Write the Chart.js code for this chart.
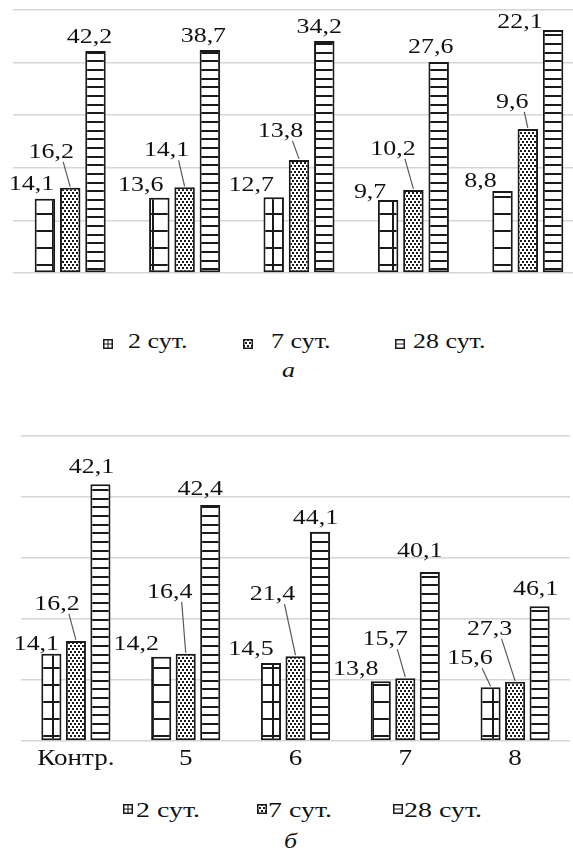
<!DOCTYPE html>
<html>
<head>
<meta charset="utf-8">
<script src="https://cdn.jsdelivr.net/npm/chart.js@4.4.1/dist/chart.umd.min.js"></script>
<style>
html, body { margin: 0; padding: 0; background: #fff; overflow: hidden; width: 573px; height: 852px; }
.wrap { position: absolute; left: 0; overflow: hidden; width: 573px; }
.wrap canvas { display: block; }
.txt { position: absolute; font: 22px "Liberation Serif", "Times New Roman", serif; line-height: 22px; color: #111;
       white-space: nowrap; transform-origin: 0 0; }
.icon { position: absolute; }
</style>
</head>
<body>
<div class="wrap" style="top:0;height:285px"><canvas id="chartA" width="600" height="285"></canvas></div>
<div class="wrap" style="top:420px;height:360px"><canvas id="chartB" width="573" height="360"></canvas></div>
<script>
var categories = ['Контр.', '5', '6', '7', '8'];
var seriesNames = ['2 сут.', '7 сут.', '28 сут.'];

// chart а: bar heights (0..50, step 10)
var aDay2 = [14.1, 14.3, 14.4, 13.9, 15.6];
var aDay7 = [16.2, 16.3, 21.5, 15.8, 27.4];
var aDay28 = [42.2, 42.4, 44.1, 40.1, 46.2];
// chart а: numbers printed on the bars
var aText2 = [14.1, 13.6, 12.7, 9.7, 8.8];
var aText7 = [16.2, 14.1, 13.8, 10.2, 9.6];
var aText28 = [42.2, 38.7, 34.2, 27.6, 22.1];

// chart б: bar heights
var bDay2 = [14.3, 13.8, 12.8, 9.8, 8.8];
var bDay7 = [16.4, 14.3, 13.9, 10.3, 9.7];
var bDay28 = [42.1, 38.7, 34.3, 27.7, 22.1];
// chart б: numbers printed on the bars
var bText2 = [14.1, 14.2, 14.5, 13.8, 15.6];
var bText7 = [16.2, 16.4, 21.4, 15.7, 27.3];
var bText28 = [42.1, 42.4, 44.1, 40.1, 46.1];

var SX = 1.18;   // the text in the picture is stretched sideways
var FONT = '"Liberation Serif", "Times New Roman", serif';

// where each number sits relative to its bar (dx from bar centre, rise above bar top)
var aNudge = {
    dx: [[-13.5, -18.5, -22.5, -18, -22], [-19, -18, -18.5, -20.5, -15.5], [-6, -6.5, -5, -8, -33]],
    rise: [[9, 7, 6, 2, 4], [30, 31, 23, 35, 21], [8, 8, 8, 9, 2]],
    leader: [[0, 0, 0, 0, 0], [1, 1, 1, 1, 1], [0, 0, 0, 0, 0]]
};
var bNudge = {
    dx: [[-15, -25, -20, -25, -20.5], [-19, -16, -23, -20, -25.5], [-9, -10, -4.5, -10, -4]],
    rise: [[4, 7, 8, 6, 23], [31, 56, 56, 33, 47], [11, 10, 8, 15, 11]],
    leader: [[0, 0, 0, 0, 1], [1, 1, 1, 1, 1], [0, 0, 0, 0, 0]]
};

function tile(w, h, paint) {
    var c = document.createElement('canvas');
    c.width = w; c.height = h;
    var g = c.getContext('2d');
    g.fillStyle = '#fff';
    g.fillRect(0, 0, w, h);
    g.fillStyle = '#1a1a1a';
    paint(g);
    return c;
}
var gridTile = tile(20, 17, function (g) { g.fillRect(12, 0, 2, 17); g.fillRect(0, 9, 20, 2); });
var dotTile = tile(4, 6, function (g) { g.fillRect(0, 0, 2, 2); g.fillRect(2, 3, 2, 2); });
var lineTile = tile(4, 26, function (g) { g.fillRect(0, 0, 4, 2); g.fillRect(0, 8, 4, 2); g.fillRect(0, 17, 4, 2); });
var tiles = [gridTile, dotTile, lineTile];

function fmt(v) { return v.toFixed(1).replace('.', ','); }

function stretchedText(ctx, text, x, y) {
    ctx.save();
    ctx.translate(x, y);
    ctx.scale(SX, 1);
    ctx.fillText(text, 0, 0);
    ctx.restore();
}

var valueLabels = {
    id: 'valueLabels',
    afterDatasetsDraw: function (chart, args, opts) {
        var ctx = chart.ctx;
        ctx.save();
        ctx.font = '22px ' + FONT;
        ctx.fillStyle = '#111';
        ctx.textAlign = 'center';
        ctx.textBaseline = 'alphabetic';
        opts.texts.forEach(function (row, i) {
            var meta = chart.getDatasetMeta(i);
            row.forEach(function (v, j) {
                var bar = meta.data[j];
                var cx = bar.x + opts.nudge.dx[i][j];
                var by = bar.y - opts.nudge.rise[i][j];
                if (opts.nudge.leader[i][j]) {
                    ctx.strokeStyle = '#595959';
                    ctx.lineWidth = 1.2;
                    ctx.beginPath();
                    ctx.moveTo(cx + 12, by + 4);
                    ctx.lineTo(bar.x, bar.y - 1);
                    ctx.stroke();
                }
                stretchedText(ctx, fmt(v), cx, by);
            });
        });
        // category names under the bottom chart
        if (opts.categoryTicks) {
            var xs = chart.scales.x;
            ctx.font = '23px ' + FONT;
            chart.data.labels.forEach(function (name, i) {
                stretchedText(ctx, name, xs.getPixelForValue(i), chart.chartArea.bottom + 24);
            });
        }
        ctx.restore();
    }
};

function makeDatasets(ctx, values) {
    return values.map(function (v, i) {
        return {
            label: seriesNames[i],
            data: v,
            backgroundColor: ctx.createPattern(tiles[i], 'repeat'),
            borderColor: '#1a1a1a',
            borderWidth: 2,
            borderSkipped: false
        };
    });
}

var yAxis = {
    min: 0, max: 50,
    ticks: { stepSize: 10, display: false },
    grid: { color: '#d6d6d6', lineWidth: 1.5, drawTicks: false },
    border: { display: false },
    afterFit: function (s) { s.width = 0; }
};

var ctxA = document.getElementById('chartA').getContext('2d');
var chartA = new Chart(ctxA, {
    type: 'bar',
    data: { labels: categories, datasets: makeDatasets(ctxA, [aDay2, aDay7, aDay28]) },
    options: {
        responsive: false,
        animation: false,
        devicePixelRatio: 1,
        layout: { padding: { left: 13, right: 15, top: 10, bottom: 12 } },
        datasets: { bar: { categoryPercentage: 0.663, barPercentage: 0.81 } },
        plugins: {
            legend: { display: false },
            tooltip: { enabled: false },
            valueLabels: { texts: [aText2, aText7, aText28], nudge: aNudge, categoryTicks: false }
        },
        scales: { x: { display: false }, y: yAxis }
    },
    plugins: [valueLabels]
});

var ctxB = document.getElementById('chartB').getContext('2d');
var chartB = new Chart(ctxB, {
    type: 'bar',
    data: { labels: categories, datasets: makeDatasets(ctxB, [bDay2, bDay7, bDay28]) },
    options: {
        responsive: false,
        animation: false,
        devicePixelRatio: 1,
        layout: { padding: { left: 21, right: 3, top: 16, bottom: 39 } },
        datasets: { bar: { categoryPercentage: 0.67, barPercentage: 0.82 } },
        plugins: {
            legend: { display: false },
            tooltip: { enabled: false },
            valueLabels: { texts: [bText2, bText7, bText28], nudge: bNudge, categoryTicks: true }
        },
        scales: { x: { display: false }, y: yAxis }
    },
    plugins: [valueLabels]
});

// legends and captions
function addText(text, left, baseline, italic, stretch) {
    var d = document.createElement('div');
    d.className = 'txt';
    d.textContent = text;
    d.style.left = left + 'px';
    d.style.top = (baseline - 18.4) + 'px';
    d.style.transform = 'scaleX(' + (stretch || SX) + ')';
    if (italic) d.style.fontStyle = 'italic';
    document.body.appendChild(d);
}

function addIcon(kind, left, top) {
    var c = document.createElement('canvas');
    c.width = 10; c.height = 10;
    c.className = 'icon';
    c.style.left = left + 'px';
    c.style.top = top + 'px';
    var g = c.getContext('2d');
    g.fillStyle = '#fff';
    g.fillRect(0, 0, 10, 10);
    g.fillStyle = '#1a1a1a';
    if (kind === 0) { g.fillRect(4.5, 0, 1, 10); g.fillRect(0, 4.5, 10, 1); }
    if (kind === 1) { g.fillStyle = g.createPattern(dotTile, 'repeat'); g.fillRect(1, 1, 8, 8); }
    if (kind === 2) { g.fillRect(0, 4.5, 10, 1); }
    g.strokeStyle = '#1a1a1a';
    g.lineWidth = 1.5;
    g.strokeRect(0.75, 0.75, 8.5, 8.5);
    document.body.appendChild(c);
}

var legendA = { icon: [103, 243, 395], text: [128, 271, 413], iconTop: 339, base: 348, stretch: 1.18 };
var legendB = { icon: [123, 257, 393], text: [136, 268, 404], iconTop: 804, base: 817, stretch: 1.27 };
[legendA, legendB].forEach(function (L) {
    seriesNames.forEach(function (name, i) {
        addIcon(i, L.icon[i], L.iconTop);
        addText(name, L.text[i], L.base, false, L.stretch);
    });
});
addText('а', 282, 377, true);
addText('б', 284, 848, true);
</script>
</body>
</html>
